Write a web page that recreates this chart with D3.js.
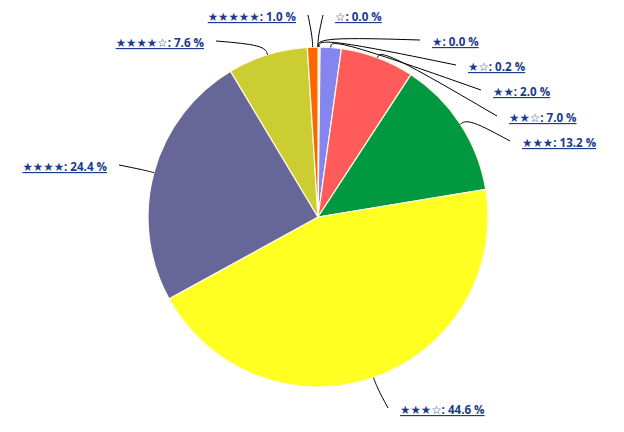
<!DOCTYPE html>
<html>
<head>
<meta charset="utf-8">
<script src="https://cdn.jsdelivr.net/npm/d3@7/dist/d3.min.js"></script>
<style>
  body { margin: 0; background: #fff; }
  text.lbl { font-family: "Open Sans", "DejaVu Sans", sans-serif; font-weight: bold; font-size: 11.6px; fill: #1b3b8b; text-decoration: underline; }
</style>
</head>
<body>
<svg id="chart" width="624" height="432"></svg>
<script>
// ratings, clockwise from 12 o'clock
var ratings = ["☆", "★", "★☆", "★★", "★★☆", "★★★", "★★★☆", "★★★★", "★★★★☆", "★★★★★"];
var shares = [0.0, 0.0, 0.2, 2.0, 7.0, 13.2, 44.6, 24.4, 7.6, 1.0];
var colors = ["#9999cc", "#993366", "#ffcc99", "#8585ef", "#ff5b5b", "#00993f", "#ffff22", "#666699", "#cccc33", "#ff6600"];

// label anchors (layout only)
var labelX = [335, 432, 468, 493, 509, 522, 400, 107, 204, 296];
var labelY = [17, 42, 67, 92, 118, 143, 410, 167, 43, 17];

var svg = d3.select("#chart");
var cx = 318, cy = 217, r = 170;

var pie = d3.pie().sort(null).value(function(d) { return d; });
var arcs = pie(shares);
var arc = d3.arc().innerRadius(0).outerRadius(r);

var g = svg.append("g").attr("transform", "translate(" + cx + "," + cy + ")");

g.selectAll("path.slice")
  .data(arcs)
  .enter()
  .append("path")
  .attr("class", "slice")
  .attr("d", arc)
  .attr("fill", function(d, i) { return colors[i]; })
  .attr("stroke", "#fffbe8")
  .attr("stroke-width", 1.2);

function polar(a, rad) {
  return [rad * Math.sin(a), -rad * Math.cos(a)];
}

var line = d3.line().curve(d3.curveBasis);

g.selectAll("path.leader")
  .data(arcs)
  .enter()
  .append("path")
  .attr("class", "leader")
  .attr("fill", "none")
  .attr("stroke", "#000")
  .attr("stroke-width", 1)
  .attr("d", function(d, i) {
    var a = (d.startAngle + d.endAngle) / 2;
    var p0 = polar(a, r);
    var p1 = polar(a, r + 10);
    var right = labelX[i] > cx;
    var ex = (right ? labelX[i] - 12 : labelX[i] + 12) - cx;
    var ey = labelY[i] - 2 - cy;
    return line([p0, p1, [ex, ey]]);
  });

svg.selectAll("text.lbl")
  .data(arcs)
  .enter()
  .append("text")
  .attr("class", "lbl")
  .attr("x", function(d, i) { return labelX[i]; })
  .attr("y", function(d, i) { return labelY[i] + 4; })
  .attr("text-anchor", function(d, i) { return labelX[i] > cx ? "start" : "end"; })
  .text(function(d, i) { return ratings[i] + ": " + shares[i].toFixed(1) + " %"; });
</script>
</body>
</html>
